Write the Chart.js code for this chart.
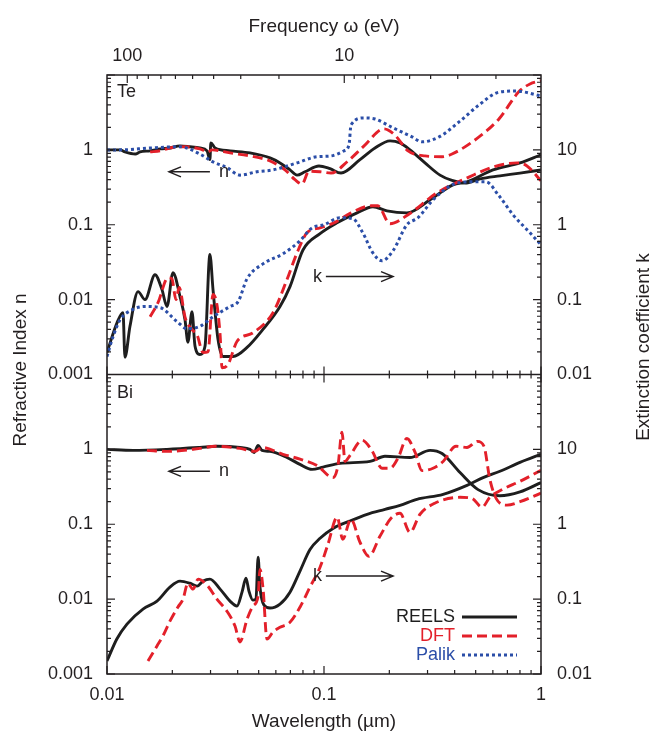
<!DOCTYPE html>
<html lang="en">
<head>
<meta charset="UTF-8" />
<title>Optical constants of Te and Bi</title>
<script src="https://cdn.jsdelivr.net/npm/chart.js"></script>
<style>
  html, body { margin: 0; padding: 0; background: #fff; }
  #wrap { width: 653px; height: 731px; }
</style>
</head>
<body>
<div id="wrap"><canvas id="chart" width="653" height="731"></canvas></div>
<script>
// wavelength (um) and values

// Te, refractive index n
const teNReelsWl = [0.0100, 0.0115, 0.0121, 0.0135, 0.0142, 0.0158, 0.0176, 0.0195, 0.0217, 0.0241, 0.0268, 0.0289, 0.0298, 0.0301, 0.0315, 0.0369, 0.0456, 0.0564, 0.0627, 0.0697, 0.0751, 0.0817, 0.0948, 0.1066, 0.1198, 0.1465, 0.1718, 0.2015, 0.2239, 0.249, 0.292, 0.3425, 0.389, 0.447, 0.524, 0.647, 0.800, 1.0];
const teNReels = [1.00, 1.00, 0.94, 0.88, 0.94, 0.97, 1.03, 1.06, 1.13, 1.10, 1.06, 0.97, 0.74, 1.24, 1.06, 0.97, 0.91, 0.78, 0.67, 0.54, 0.46, 0.51, 0.61, 0.56, 0.49, 0.74, 1.06, 1.32, 1.24, 1.00, 0.67, 0.46, 0.39, 0.36, 0.41, 0.45, 0.49, 0.54];
const teNDftWl = [0.0158, 0.0176, 0.0195, 0.0229, 0.0268, 0.0292, 0.0305, 0.0369, 0.0456, 0.0564, 0.0661, 0.0735, 0.0792, 0.0853, 0.0959, 0.1077, 0.129, 0.153, 0.189, 0.212, 0.244, 0.292, 0.350, 0.389, 0.518, 0.640, 0.792, 0.890, 1.0];
const teNDft = [0.94, 0.97, 1.06, 1.10, 1.03, 0.94, 1.00, 0.91, 0.83, 0.71, 0.54, 0.40, 0.35, 0.52, 0.51, 0.49, 0.71, 1.13, 1.91, 1.58, 0.97, 0.83, 0.81, 0.88, 1.49, 2.59, 6.0, 7.6, 8.4];
const teNPalikWl = [0.0100, 0.0115, 0.0158, 0.0217, 0.0268, 0.0308, 0.0357, 0.0410, 0.0491, 0.0582, 0.0751, 0.0928, 0.1077, 0.1236, 0.1304, 0.1332, 0.153, 0.1718, 0.2036, 0.2545, 0.283, 0.339, 0.419, 0.518, 0.640, 0.767, 1.0];
const teNPalik = [1.00, 1.00, 1.06, 1.10, 0.88, 0.69, 0.58, 0.46, 0.51, 0.54, 0.67, 0.81, 0.83, 0.97, 1.17, 2.15, 2.67, 2.59, 2.03, 1.49, 1.28, 1.49, 2.36, 3.98, 5.9, 6.1, 5.25];

// Te, extinction coefficient k
const teKReelsWl = [0.0100, 0.01112, 0.01185, 0.0121, 0.01276, 0.0139, 0.01497, 0.01664, 0.01792, 0.0189, 0.02014, 0.0217, 0.02288, 0.0236, 0.02464, 0.02544, 0.0268, 0.0283, 0.0298, 0.0308, 0.0325, 0.03424, 0.0381, 0.0442, 0.0523, 0.0627, 0.0697, 0.080, 0.0959, 0.1148, 0.142, 0.168, 0.195, 0.241, 0.308, 0.393, 0.456, 0.601, 0.800, 1.0];
const teKReels = [0.0197, 0.049, 0.067, 0.017, 0.044, 0.128, 0.10, 0.215, 0.136, 0.081, 0.229, 0.110, 0.054, 0.027, 0.069, 0.024, 0.0185, 0.024, 0.40, 0.136, 0.029, 0.0174, 0.0174, 0.023, 0.040, 0.081, 0.149, 0.46, 0.76, 1.06, 1.44, 1.74, 1.53, 1.44, 2.15, 3.41, 3.74, 5.4, 6.7, 8.6];
const teKDftWl = [0.0158, 0.01718, 0.0191, 0.0199, 0.0208, 0.0215, 0.0229, 0.0246, 0.026, 0.0277, 0.0292, 0.0308, 0.0321, 0.0332, 0.0339, 0.0361, 0.0397, 0.0471, 0.0582, 0.0675, 0.0751, 0.0835, 0.0959, 0.111, 0.1332, 0.165, 0.177, 0.2015, 0.244, 0.332, 0.471, 0.601, 0.775, 0.862, 1.0];
const teKDft = [0.059, 0.091, 0.196, 0.19, 0.10, 0.145, 0.058, 0.040, 0.034, 0.0197, 0.020, 0.117, 0.086, 0.034, 0.0123, 0.0136, 0.0276, 0.036, 0.067, 0.185, 0.42, 0.78, 0.91, 1.06, 1.44, 1.79, 1.79, 1.03, 1.36, 2.67, 4.4, 5.9, 6.7, 6.1, 3.86];
const teKPalikWl = [0.0100, 0.01066, 0.0115, 0.01318, 0.01497, 0.0176, 0.0210, 0.02338, 0.0268, 0.0308, 0.0369, 0.0402, 0.0442, 0.0523, 0.0647, 0.0775, 0.0881, 0.1, 0.1185, 0.136, 0.151, 0.168, 0.185, 0.208, 0.241, 0.271, 0.318, 0.389, 0.471, 0.558, 0.640, 0.743, 0.890, 1.0];
const teKPalik = [0.0174, 0.032, 0.054, 0.074, 0.081, 0.078, 0.051, 0.041, 0.044, 0.059, 0.081, 0.094, 0.19, 0.30, 0.41, 0.61, 0.91, 1.0, 1.24, 1.20, 0.78, 0.42, 0.33, 0.45, 1.0, 1.24, 2.15, 3.41, 3.74, 3.74, 2.44, 1.36, 0.78, 0.54];

// Bi, refractive index n
const biNReelsWl = [0.0100, 0.0132, 0.0189, 0.0268, 0.0321, 0.041, 0.0456, 0.0476, 0.0497, 0.0518, 0.0564, 0.0675, 0.0775, 0.0881, 0.0990, 0.1185, 0.163, 0.191, 0.249, 0.308, 0.35, 0.4235, 0.513, 0.647, 0.800, 1.0];
const biNReels = [1.0, 0.97, 1.0, 1.06, 1.10, 1.06, 1.0, 0.91, 1.13, 0.97, 0.94, 0.78, 0.63, 0.54, 0.58, 0.65, 0.69, 0.81, 0.78, 0.97, 0.88, 0.49, 0.29, 0.24, 0.27, 0.36];
const biNDftWl = [0.01528, 0.0189, 0.0268, 0.0315, 0.041, 0.0481, 0.0518, 0.0647, 0.0775, 0.0928, 0.110, 0.116, 0.121, 0.125, 0.131, 0.150, 0.166, 0.185, 0.2015, 0.220, 0.241, 0.263, 0.283, 0.318, 0.354, 0.406, 0.456, 0.509, 0.546, 0.581, 0.622, 0.697, 0.800, 1.0];
const biNDft = [0.97, 0.94, 1.03, 1.10, 1.03, 0.94, 1.06, 0.86, 0.74, 0.61, 0.42, 0.61, 1.69, 0.69, 0.81, 1.32, 0.97, 0.56, 0.56, 0.78, 1.40, 0.91, 0.52, 0.56, 0.69, 1.10, 1.06, 1.28, 1.10, 0.40, 0.22, 0.18, 0.20, 0.26];

// Bi, extinction coefficient k
const biKReelsWl = [0.0100, 0.0111, 0.01236, 0.01465, 0.0170, 0.0195, 0.0217, 0.0241, 0.0260, 0.0277, 0.0298, 0.0332, 0.0369, 0.0397, 0.0419, 0.0437, 0.0451, 0.047, 0.0486, 0.0497, 0.0507, 0.0529, 0.0564, 0.0627, 0.0697, 0.0775, 0.0862, 0.0959, 0.1100, 0.131, 0.158, 0.191, 0.224, 0.268, 0.354, 0.456, 0.541, 0.647, 0.800, 1.0];
const biKReels = [0.0149, 0.0293, 0.0464, 0.0736, 0.094, 0.145, 0.174, 0.163, 0.149, 0.174, 0.185, 0.136, 0.094, 0.081, 0.124, 0.19, 0.128, 0.097, 0.10, 0.363, 0.145, 0.083, 0.076, 0.086, 0.124, 0.237, 0.46, 0.65, 0.88, 1.10, 1.36, 1.58, 1.79, 2.15, 2.51, 3.31, 4.2, 5.1, 6.7, 8.6];
const biKDftWl = [0.01545, 0.0170, 0.0181, 0.0195, 0.0212, 0.0224, 0.0236, 0.0249, 0.0263, 0.0289, 0.0321, 0.0357, 0.0389, 0.0410, 0.0442, 0.0471, 0.0497, 0.0507, 0.0524, 0.0546, 0.0582, 0.0627, 0.0697, 0.0775, 0.0862, 0.0959, 0.1043, 0.115, 0.122, 0.133, 0.1465, 0.161, 0.181, 0.2036, 0.224, 0.249, 0.277, 0.324, 0.4235, 0.48, 0.535, 0.581, 0.665, 0.800, 1.0];
const biKDft = [0.0149, 0.0237, 0.0322, 0.0508, 0.078, 0.10, 0.163, 0.136, 0.185, 0.154, 0.10, 0.069, 0.0437, 0.0268, 0.054, 0.081, 0.110, 0.25, 0.136, 0.0293, 0.0364, 0.042, 0.049, 0.078, 0.145, 0.267, 0.54, 1.24, 0.63, 1.17, 0.575, 0.374, 0.69, 1.20, 1.40, 0.78, 1.36, 1.91, 2.29, 2.22, 1.69, 2.29, 2.93, 3.74, 5.25];

const seriesNames = ["REELS", "DFT", "Palik"];

const FONT = "'Liberation Sans', Arial, Helvetica, sans-serif";
const INK = "#231f20";
const colors = { REELS: "#1e1e1e", DFT: "#e3202a", Palik: "#2b4ea8" };
const looks = {
  REELS: { borderColor: colors.REELS, borderWidth: 2.9 },
  DFT: { borderColor: colors.DFT, borderWidth: 2.9, borderDash: [10, 5] },
  Palik: { borderColor: colors.Palik, borderWidth: 3, borderDash: [3, 3] },
};

function pts(wl, v) {
  return wl.map((x, i) => ({ x: x, y: v[i] }));
}

function curve(kind, wl, v, axis) {
  return Object.assign(
    {
      label: kind,
      data: pts(wl, v),
      xAxisID: "x",
      yAxisID: axis,
      pointRadius: 0,
      fill: false,
      cubicInterpolationMode: "monotone",
    },
    looks[kind]
  );
}

// decade exponent of v, or null when v is not a power of ten
function decade(v) {
  const e = Math.log10(v);
  const r = Math.round(e);
  return Math.abs(e - r) < 1e-6 ? r : null;
}

function fmt(v, r) {
  return r >= 0 ? String(Math.round(v)) : v.toFixed(-r);
}

function yAxis(pos, stack, min, max) {
  return {
    type: "logarithmic",
    position: pos,
    stack: stack,
    min: min,
    max: max,
    grid: { display: false, drawTicks: false },
    border: { display: false },
    ticks: {
      autoSkip: false,
      padding: pos === "left" ? 14 : 16,
      color: INK,
      font: { family: FONT, size: 18 },
      callback: (v) => {
        const r = decade(v);
        if (r === null || v >= max * 0.999) return "";
        return fmt(v, r);
      },
    },
    afterFit: (s) => {
      s.width = pos === "left" ? 107 : 112;
    },
  };
}

function xAxis(pos, min, max, reverse) {
  return {
    type: "logarithmic",
    position: pos,
    min: min,
    max: max,
    reverse: reverse,
    grid: { display: false, drawTicks: false },
    border: { display: false },
    ticks: {
      autoSkip: false,
      maxRotation: 0,
      padding: pos === "bottom" ? 10 : 8,
      color: INK,
      font: { family: FONT, size: 18 },
      callback: (v) => {
        const r = decade(v);
        return r === null ? "" : fmt(v, r);
      },
    },
    afterFit: (s) => {
      s.height = pos === "bottom" ? 57 : 75;
    },
  };
}

function arrow(c, x1, x2, y) {
  const dir = x2 > x1 ? 1 : -1;
  c.beginPath();
  c.moveTo(x1, y);
  c.lineTo(x2, y);
  c.moveTo(x2 - dir * 12, y - 5);
  c.lineTo(x2, y);
  c.lineTo(x2 - dir * 12, y + 5);
  c.stroke();
}

const decor = {
  id: "decor",
  afterDraw(chart) {
    const c = chart.ctx;
    const a = chart.chartArea;
    const s = chart.scales;
    const mid = s.nTe.bottom;
    c.save();
    c.strokeStyle = INK;
    c.lineWidth = 1.5;
    c.strokeRect(a.left, a.top, a.right - a.left, a.bottom - a.top);
    c.beginPath();
    c.moveTo(a.left, mid);
    c.lineTo(a.right, mid);
    c.stroke();

    // inward tick marks, 1..9 per decade
    const each = (sc, fn) => {
      const lo = Math.min(sc.min, sc.max), hi = Math.max(sc.min, sc.max);
      for (let e = Math.floor(Math.log10(lo)); e <= Math.ceil(Math.log10(hi)); e++) {
        for (let m = 1; m < 10; m++) {
          const v = m * Math.pow(10, e);
          if (v < lo * 0.9999 || v > hi * 1.0001) continue;
          fn(sc.getPixelForValue(v), m === 1 ? 8 : 4);
        }
      }
    };
    c.lineWidth = 1.2;
    c.beginPath();
    each(s.x, (p, len) => {
      c.moveTo(p, a.bottom); c.lineTo(p, a.bottom - len);
      c.moveTo(p, mid - len); c.lineTo(p, mid + len);
    });
    each(s.xTop, (p, len) => { c.moveTo(p, a.top); c.lineTo(p, a.top + len); });
    ["nTe", "nBi"].forEach((id) => each(s[id], (p, len) => { c.moveTo(a.left, p); c.lineTo(a.left + len, p); }));
    ["kTe", "kBi"].forEach((id) => each(s[id], (p, len) => { c.moveTo(a.right, p); c.lineTo(a.right - len, p); }));
    c.stroke();

    c.fillStyle = INK;
    c.font = "18px " + FONT;
    c.textBaseline = "middle";
    c.textAlign = "left";
    c.fillText("Te", a.left + 10, s.nTe.top + 17);
    c.fillText("Bi", a.left + 10, s.nBi.top + 19);

    c.font = "19px " + FONT;
    c.textAlign = "center";
    const cx = (a.left + a.right) / 2;
    c.fillText("Frequency \u03c9 (eV)", cx, 27);
    c.fillText("Wavelength (\u00b5m)", cx, 722);
    c.save();
    c.translate(21, 370);
    c.rotate(-Math.PI / 2);
    c.fillText("Refractive Index n", 0, 0);
    c.restore();
    c.save();
    c.translate(644, 347);
    c.rotate(-Math.PI / 2);
    c.fillText("Extinction coefficient k", 0, 0);
    c.restore();

    // n and k pointers in both panels
    c.font = "18px " + FONT;
    c.lineWidth = 1.5;
    [["nTe", "kTe"], ["nBi", "kBi"]].forEach(([nId, kId]) => {
      const yn = s[nId].getPixelForValue(0.509);
      arrow(c, s.x.getPixelForValue(0.0298), s.x.getPixelForValue(0.0193), yn);
      c.textAlign = "left";
      c.fillText("n", s.x.getPixelForValue(0.0328), yn);
      const yk = s[kId].getPixelForValue(0.203);
      arrow(c, s.x.getPixelForValue(0.102), s.x.getPixelForValue(0.208), yk);
      c.textAlign = "right";
      c.fillText("k", s.x.getPixelForValue(0.0979), yk);
    });

    // legend, lower right of Bi panel
    seriesNames.forEach((name, i) => {
      const y = a.bottom - 57 + i * 19;
      c.fillStyle = colors[name];
      c.textAlign = "right";
      c.fillText(name, a.right - 86, y);
      c.strokeStyle = colors[name];
      c.lineWidth = looks[name].borderWidth;
      c.setLineDash(looks[name].borderDash || []);
      c.beginPath();
      c.moveTo(a.right - 79, y);
      c.lineTo(a.right - 24, y);
      c.stroke();
      c.setLineDash([]);
    });
    c.restore();
  },
};

new Chart(document.getElementById("chart"), {
  type: "line",
  data: {
    datasets: [
      curve("Palik", teNPalikWl, teNPalik, "nTe"),
      curve("Palik", teKPalikWl, teKPalik, "kTe"),
      curve("DFT", teNDftWl, teNDft, "nTe"),
      curve("DFT", teKDftWl, teKDft, "kTe"),
      curve("DFT", biNDftWl, biNDft, "nBi"),
      curve("DFT", biKDftWl, biKDft, "kBi"),
      curve("REELS", teNReelsWl, teNReels, "nTe"),
      curve("REELS", teKReelsWl, teKReels, "kTe"),
      curve("REELS", biNReelsWl, biNReels, "nBi"),
      curve("REELS", biKReelsWl, biKReels, "kBi"),
    ],
  },
  options: {
    responsive: false,
    animation: false,
    layout: { padding: 0 },
    plugins: { legend: { display: false }, tooltip: { enabled: false } },
    scales: {
      x: xAxis("bottom", 0.01, 1, false),
      xTop: xAxis("top", 1.24, 124, true),
      nBi: yAxis("left", "n", 0.001, 10),
      nTe: yAxis("left", "n", 0.001, 10),
      kTe: yAxis("right", "k", 0.01, 100),
      kBi: yAxis("right", "k", 0.01, 100),
    },
  },
  plugins: [decor],
});
</script>
</body>
</html>
